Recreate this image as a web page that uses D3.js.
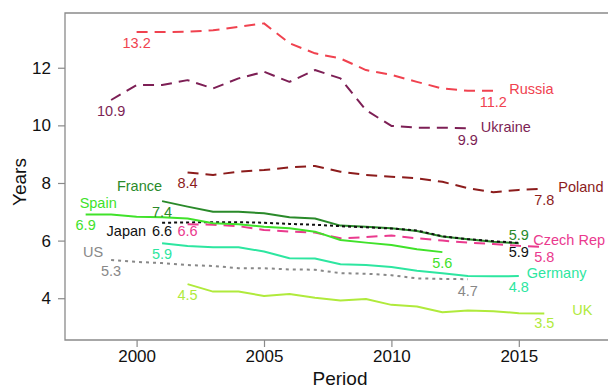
<!DOCTYPE html>
<html>
<head>
<meta charset="utf-8">
<script src="https://cdn.jsdelivr.net/npm/d3@7"></script>
<style>
  html, body { margin: 0; padding: 0; background: #fff; }
  svg { display: block; font-family: "Liberation Sans", Arial, sans-serif; }
</style>
</head>
<body>
<svg id="chart" width="608" height="388"></svg>
<script>
// ---- data ----
const countries = ["Russia", "Ukraine", "Poland", "France", "Japan", "Czech Rep", "Spain", "Germany", "US", "UK"];
const startYears = [2000, 1999, 2002, 2001, 2001, 2002, 1998, 2001, 1999, 2002];
const russia  = [13.24, 13.24, 13.25, 13.3, 13.42, 13.54, 12.85, 12.5, 12.32, 11.92, 11.75, 11.51, 11.28, 11.2, 11.2];
const ukraine = [10.88, 11.4, 11.4, 11.57, 11.28, 11.63, 11.86, 11.51, 11.92, 11.63, 10.53, 9.98, 9.92, 9.92, 9.9];
const poland  = [8.36, 8.28, 8.39, 8.45, 8.54, 8.59, 8.39, 8.28, 8.22, 8.16, 8.04, 7.82, 7.68, 7.76, 7.8];
const france  = [7.37, 7.18, 7.0, 7.0, 6.95, 6.81, 6.77, 6.52, 6.48, 6.43, 6.33, 6.14, 6.05, 5.96, 5.91];
const japan   = [6.62, 6.63, 6.64, 6.64, 6.62, 6.58, 6.55, 6.5, 6.46, 6.42, 6.35, 6.15, 6.05, 5.98, 5.92];
const czech   = [6.57, 6.55, 6.5, 6.37, 6.31, 6.28, 6.08, 6.12, 6.18, 6.08, 6.0, 5.93, 5.88, 5.82, 5.78];
const spain   = [6.91, 6.91, 6.83, 6.81, 6.77, 6.6, 6.57, 6.48, 6.43, 6.31, 6.02, 5.93, 5.85, 5.7, 5.6];
const germany = [5.91, 5.81, 5.77, 5.77, 5.62, 5.39, 5.38, 5.18, 5.15, 5.08, 4.95, 4.87, 4.77, 4.76, 4.77];
const us      = [5.33, 5.26, 5.22, 5.15, 5.12, 5.04, 5.04, 5.0, 4.99, 4.87, 4.85, 4.8, 4.69, 4.67, 4.66];
const uk      = [4.49, 4.23, 4.23, 4.08, 4.15, 4.02, 3.92, 3.97, 3.77, 3.71, 3.51, 3.57, 3.55, 3.48, 3.47];
const seriesValues = [russia, ukraine, poland, france, japan, czech, spain, germany, us, uk];
const xTicks = [2000, 2005, 2010, 2015];
const yTicks = [4, 6, 8, 10, 12];

// ---- styles ----
const colors = ["#f0424f", "#7d1f55", "#8c1c1c", "#2a8a2a", "#111111", "#ea3a8e", "#40e22a", "#2de6a0", "#888888", "#b0ea3c"];
const dashes = ["11,7", "11,7", "11,7", null, "3,3", "11,7", null, null, "3,4", null];
// name label: [anchor, dx, dy, relative to 'start' or 'end']
const nameLab = [
  ["start", 16, 3, "end"],
  ["start", 13, 4, "end"],
  ["start", 14, 3, "end"],
  ["end", 0, -10, "start"],
  ["end", -16, 13, "start"],
  ["start", -11, -2, "end"],
  ["start", -6, -6, "start"],
  ["start", 8, 2, "end"],
  ["start", -28, -3, "start"],
  ["start", 28, 2, "end"]
];
const startDy = [16, 16, 15, 16, 13, 12, 16, 16, 16, 16];
const endDy   = [16, 17, 16, -3, 14, 15, 16, 16, 17, 15];

// ---- layout ----
const W = 608, H = 388;
const m = { left: 65, right: 0, top: 13, bottom: 48 };
const svg = d3.select("#chart");

const x = d3.scaleLinear().domain([1997.19, 2018.5]).range([m.left, W - m.right]);
const y = d3.scaleLinear().domain([2.55, 13.9]).range([H - m.bottom, m.top]);

const frameColor = "#8a8a8a";

// axes
const yAxis = svg.append("g")
  .attr("transform", `translate(${m.left},0)`)
  .call(d3.axisLeft(y).tickValues(yTicks).tickSize(7).tickPadding(7).tickFormat(d3.format("d")));
const xAxis = svg.append("g")
  .attr("transform", `translate(0,${H - m.bottom})`)
  .call(d3.axisBottom(x).tickValues(xTicks).tickSize(7).tickPadding(3).tickFormat(d3.format("d")));
[yAxis, xAxis].forEach(g => {
  g.select(".domain").remove();
  g.selectAll(".tick line").attr("stroke", frameColor).attr("stroke-width", 1.2);
  g.selectAll(".tick text").attr("fill", "#111").style("font-size", "17px")
   .style("font-family", "'Liberation Sans', Arial, sans-serif");
});

// frame (left, top, bottom)
svg.append("path")
  .attr("d", `M${W},${m.top}H${m.left}V${H - m.bottom}H${W}`)
  .attr("fill", "none").attr("stroke", frameColor).attr("stroke-width", 1.3);

// axis titles
svg.append("text").attr("x", 340).attr("y", 385).attr("text-anchor", "middle")
  .style("font-size", "19px").attr("fill", "#111").text("Period");
svg.append("text").attr("transform", "translate(26,182) rotate(-90)").attr("text-anchor", "middle")
  .style("font-size", "19px").attr("fill", "#111").text("Years");

// series
const series = countries.map((c, i) => ({
  name: c, color: colors[i], dash: dashes[i],
  points: seriesValues[i].map((v, j) => ({ year: startYears[i] + j, value: v }))
}));

const line = d3.line().x(d => x(d.year)).y(d => y(d.value));

const g = svg.append("g");
g.selectAll("path.series").data(series).join("path")
  .attr("class", "series")
  .attr("d", d => line(d.points))
  .attr("fill", "none")
  .attr("stroke", d => d.color)
  .attr("stroke-width", 2)
  .attr("stroke-dasharray", d => d.dash)
  .attr("stroke-linejoin", "round");

const fmt = d3.format(".1f");
series.forEach((s, i) => {
  const p0 = s.points[0], p1 = s.points[s.points.length - 1];
  g.append("text").attr("x", x(p0.year)).attr("y", y(p0.value) + startDy[i])
    .attr("text-anchor", "middle").attr("fill", s.color).style("font-size", "14.5px")
    .text(fmt(p0.value));
  g.append("text").attr("x", x(p1.year)).attr("y", y(p1.value) + endDy[i])
    .attr("text-anchor", "middle").attr("fill", s.color).style("font-size", "14.5px")
    .text(fmt(p1.value));
  const [anchor, dx, dy, rel] = nameLab[i];
  const p = rel === "end" ? p1 : p0;
  g.append("text").attr("x", x(p.year) + dx).attr("y", y(p.value) + dy)
    .attr("text-anchor", anchor).attr("fill", s.color).style("font-size", "14.5px")
    .text(s.name);
});
</script>
</body>
</html>
